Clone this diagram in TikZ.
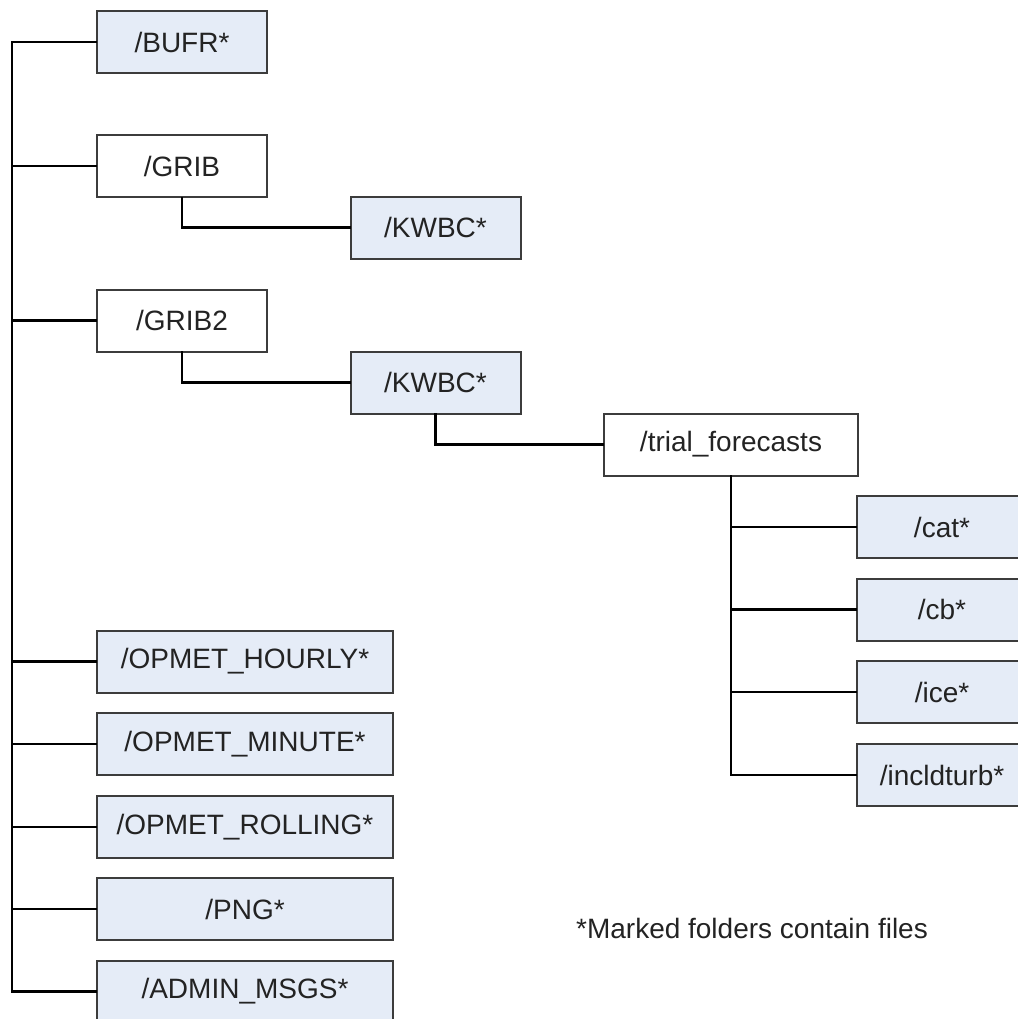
\documentclass[tikz,border=0pt]{standalone}
\usepackage{fontspec}
\setmainfont{Liberation Sans}
\usepackage{xcolor}
\usepackage{tikz}
\definecolor{boxfill}{RGB}{229,236,247}
\definecolor{boxline}{RGB}{60,60,60}
\definecolor{textgray}{RGB}{35,35,35}

\begin{document}
\begin{tikzpicture}[x=0.5pt,y=-0.5pt,
    folder/.style={draw=boxline,line width=1pt,minimum width=85pt,minimum height=31pt,
      inner sep=0pt,text=textgray,font=\fontsize{14}{16}\selectfont},
    filled/.style={folder,fill=boxfill},
    wide/.style={minimum width=148pt},
    link/.style={line width=1.2pt,black,line cap=rect}]
			\useasboundingbox (0,0) rectangle (1018,1019);
			% 根目录下的文件夹
			\node[filled] (bufr) at (182,42) {/BUFR*};
			\node[folder] (grib) at (182,166) {/GRIB};
			\node[folder] (grib2) at (182,320.5) {/GRIB2};
			\node[filled,wide] (hourly) at (245,661.5) {/OPMET\_HOURLY*};
			\node[filled,wide] (minute) at (245,744) {/OPMET\_MINUTE*};
			\node[filled,wide] (rolling) at (245,827) {/OPMET\_ROLLING*};
			\node[filled,wide] (png) at (245,909) {/PNG*};
			\node[filled,wide] (admin) at (245,991.5) {/ADMIN\_MSGS*};
			% 第二层
			\node[filled] (kwbc) at (435.5,227.5) {/KWBC*};
			\node[filled] (kwbcb) at (435.5,382.5) {/KWBC*};
			\node[folder,minimum width=127pt] (trial) at (731,444.5) {/trial\_forecasts};
			% trial_forecasts 下的文件夹
			\node[filled] (cat) at (942,527) {/cat*};
			\node[filled] (cb) at (942,609.5) {/cb*};
			\node[filled] (ice) at (942,692) {/ice*};
			\node[filled] (incld) at (942,775) {/incldturb*};
			% 说明
			\node[text=textgray,font=\fontsize{14}{16}\selectfont] (note) at (752,928) {*Marked folders contain files};
			% 连线
			\coordinate (root) at (12,42);
			\draw[link] (root) |- (admin.west);
			\foreach \f in {bufr,grib,grib2,hourly,minute,rolling,png,admin}
				\draw[link] (root |- \f.west) -- (\f.west);
			\draw[link] (grib.south) |- (kwbc.west);
			\draw[link] (grib2.south) |- (kwbcb.west);
			\draw[link] (kwbcb.south) |- (trial.west);
			\draw[link] (trial.south) |- (incld.west);
			\foreach \f in {cat,cb,ice}
				\draw[link] (trial.south |- \f.west) -- (\f.west);
		\end{tikzpicture}
\end{document}
